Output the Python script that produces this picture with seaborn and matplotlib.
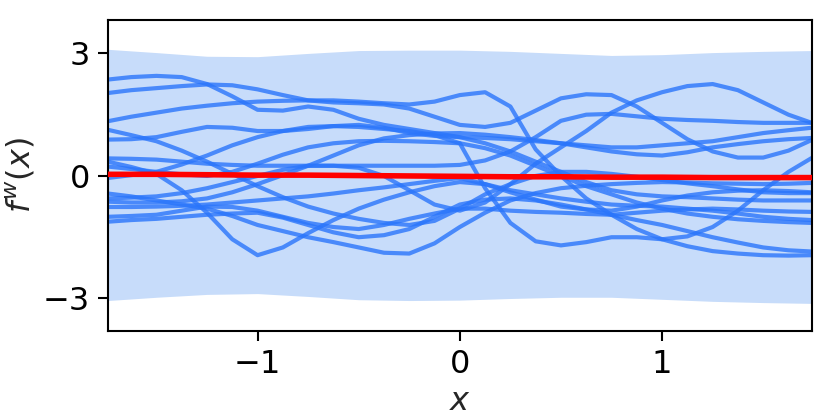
import matplotlib
matplotlib.use("Agg")
import matplotlib.pyplot as plt
import pandas as pd
import seaborn as sns

# grid the samples were read at
x_grid = [-1.74, -1.625, -1.5, -1.375, -1.25, -1.125, -1.0, -0.875, -0.75, -0.625,
          -0.5, -0.375, -0.25, -0.125, 0.0, 0.125, 0.25, 0.375, 0.5, 0.625,
          0.75, 0.875, 1.0, 1.125, 1.25, 1.375, 1.5, 1.625, 1.74]

# prior samples f^w(x)
s01 = [2.36, 2.42, 2.45, 2.42, 2.25, 1.95, 1.62, 1.60, 1.70, 1.62, 1.40, 1.25, 1.15, 1.05, 0.95,
       0.80, 0.60, 0.35, 0.10, -0.15, -0.35, -0.45, -0.50, -0.52, -0.55, -0.58, -0.60, -0.60, -0.60]
s02 = [2.03, 2.10, 2.15, 2.20, 2.24, 2.22, 2.12, 1.98, 1.85, 1.80, 1.78, 1.75, 1.65, 1.45, 1.25,
       1.20, 1.30, 1.60, 1.90, 2.00, 1.98, 1.70, 1.30, 0.90, 0.60, 0.45, 0.45, 0.62, 0.88]
s03 = [1.34, 1.45, 1.55, 1.65, 1.72, 1.78, 1.82, 1.84, 1.85, 1.85, 1.82, 1.78, 1.75, 1.82, 1.98,
       2.05, 1.70, 0.65, 0.00, -0.55, -0.95, -1.30, -1.55, -1.72, -1.84, -1.90, -1.94, -1.95, -1.94]
s04 = [1.13, 1.00, 0.85, 0.62, 0.35, 0.05, -0.25, -0.52, -0.75, -0.92, -1.05, -1.15, -1.20, -1.10, -0.80,
       -0.45, -0.20, 0.00, 0.10, 0.10, 0.05, -0.02, -0.10, -0.18, -0.25, -0.33, -0.40, -0.42, -0.42]
s05 = [0.89, 0.90, 0.95, 1.08, 1.20, 1.18, 1.10, 1.10, 1.15, 1.22, 1.25, 1.18, 1.05, 0.98, 0.95,
       0.93, 0.90, 0.85, 0.80, 0.75, 0.70, 0.70, 0.75, 0.80, 0.85, 0.95, 1.05, 1.12, 1.18]
s06 = [0.43, 0.42, 0.40, 0.35, 0.30, 0.27, 0.25, 0.25, 0.25, 0.25, 0.25, 0.25, 0.25, 0.25, 0.27,
       0.38, 0.60, 0.95, 1.35, 1.50, 1.52, 1.46, 1.40, 1.37, 1.35, 1.32, 1.30, 1.30, 1.30]
s07 = [0.35, 0.22, 0.05, -0.35, -0.90, -1.55, -1.94, -1.75, -1.40, -1.08, -0.80, -0.58, -0.40, -0.25, -0.15,
       -0.20, -0.35, -0.45, -0.55, -0.63, -0.70, -0.73, -0.75, -0.80, -0.85, -0.92, -1.00, -1.05, -1.08]
s08 = [0.23, 0.17, 0.10, 0.04, 0.00, 0.10, 0.30, 0.52, 0.70, 0.80, 0.85, 0.86, 0.85, 0.83, 0.80,
       0.68, 0.50, 0.25, 0.00, -0.25, -0.45, -0.65, -0.80, -0.92, -1.00, -1.06, -1.10, -1.13, -1.15]
s09 = [-0.05, 0.02, 0.10, 0.28, 0.50, 0.75, 0.95, 1.10, 1.20, 1.22, 1.20, 1.15, 1.10, 1.00, 0.80,
       -0.30, -1.15, -1.60, -1.70, -1.62, -1.50, -1.50, -1.55, -1.48, -1.25, -0.85, -0.35, 0.10, 0.44]
s10 = [-0.43, -0.50, -0.60, -0.70, -0.80, -0.98, -1.20, -1.35, -1.50, -1.62, -1.75, -1.88, -1.90, -1.65, -1.25,
       -0.90, -0.60, -0.42, -0.30, -0.24, -0.20, -0.17, -0.15, -0.16, -0.18, -0.19, -0.20, -0.19, -0.17]
s11 = [-0.55, -0.53, -0.50, -0.42, -0.30, -0.15, 0.00, 0.15, 0.25, 0.25, 0.20, 0.00, -0.35, -0.70, -0.85,
       -0.65, -0.20, 0.30, 0.70, 1.10, 1.55, 1.85, 2.05, 2.20, 2.25, 2.10, 1.80, 1.50, 1.30]
s12 = [-0.63, -0.65, -0.65, -0.62, -0.55, -0.40, -0.20, 0.02, 0.25, 0.50, 0.75, 0.92, 1.00, 1.04, 1.05,
       1.01, 0.95, 0.88, 0.80, 0.70, 0.60, 0.53, 0.50, 0.58, 0.70, 0.78, 0.85, 0.90, 0.93]
s13 = [-0.76, -0.76, -0.75, -0.73, -0.70, -0.65, -0.60, -0.55, -0.50, -0.43, -0.35, -0.28, -0.20, -0.12, -0.05,
       -0.20, -0.40, -0.58, -0.75, -0.82, -0.85, -0.75, -0.60, -0.48, -0.40, -0.36, -0.35, -0.37, -0.40]
s14 = [-1.00, -0.98, -0.95, -0.85, -0.75, -0.76, -0.85, -1.00, -1.15, -1.25, -1.30, -1.20, -1.05, -0.92, -0.80,
       -0.80, -0.85, -0.88, -0.90, -0.93, -0.95, -0.90, -0.85, -0.82, -0.80, -0.82, -0.85, -0.87, -0.88]
s15 = [-1.12, -1.08, -1.05, -1.00, -0.95, -0.92, -0.90, -1.02, -1.20, -1.38, -1.50, -1.45, -1.30, -1.00, -0.70,
       -0.58, -0.55, -0.60, -0.70, -0.82, -0.95, -1.08, -1.20, -1.35, -1.50, -1.63, -1.75, -1.82, -1.85]

# mean and +/- band
band_x = [-1.74, -1.5, -1.25, -1.0, -0.75, -0.5, -0.25, 0.0, 0.25, 0.5, 0.75, 1.0, 1.25, 1.5, 1.74]
mean_line = [0.04, 0.04, 0.03, 0.02, 0.02, 0.01, 0.00, -0.01, -0.02, -0.02, -0.03, -0.03, -0.04, -0.04, -0.04]
band_upper = [3.10, 3.02, 2.93, 2.92, 3.00, 3.07, 3.08, 3.08, 3.05, 3.00, 2.95, 2.97, 3.02, 3.05, 3.07]
band_lower = [-3.05, -2.97, -2.90, -2.88, -2.95, -3.03, -3.05, -3.04, -3.00, -2.97, -2.97, -3.02, -3.07, -3.10, -3.12]

x_ticks = [-1, 0, 1]
y_ticks = [-3, 0, 3]

samples = [s01, s02, s03, s04, s05, s06, s07, s08, s09, s10, s11, s12, s13, s14, s15]
df = pd.DataFrame(
    [(i, xv, yv) for i, s in enumerate(samples) for xv, yv in zip(x_grid, s)],
    columns=["sample", "x", "f"],
)

sns.set_style("ticks")
plt.rcParams.update({
    "font.family": ["DejaVu Sans"],
    "font.size": 23,
    "axes.linewidth": 1.5,
    "xtick.major.size": 7,
    "ytick.major.size": 7,
    "xtick.major.width": 1.5,
    "ytick.major.width": 1.5,
    "xtick.major.pad": 6,
    "ytick.major.pad": 6,
    "axes.edgecolor": "black",
    "xtick.color": "black",
    "ytick.color": "black",
    "mathtext.fontset": "dejavusans",
})

fig = plt.figure(figsize=(8.3, 4.15), dpi=100)
ax = fig.add_axes([0.130, 0.202, 0.848, 0.750])

ax.fill_between(band_x, band_lower, band_upper, color="#c7dcfa", linewidth=0, zorder=1)
sns.lineplot(data=df, x="x", y="f", units="sample", estimator=None,
             color="#2a75fa", alpha=0.8, linewidth=3.0, ax=ax, zorder=2,
             legend=False)
for line in ax.lines:
    line.set_solid_joinstyle("round")
sns.lineplot(x=band_x, y=mean_line, color="red", linewidth=4.0, ax=ax, zorder=3)

ax.set_xlim(-1.74, 1.74)
ax.set_ylim(-3.8, 3.82)
ax.set_xticks(x_ticks)
ax.set_yticks(y_ticks)
ax.tick_params(labelsize=23)
ax.set_xlabel("$x$", fontsize=23, labelpad=4)
ax.set_ylabel("$f^w(x)$", fontsize=23, labelpad=4)

fig.savefig("out.png", dpi=100)
